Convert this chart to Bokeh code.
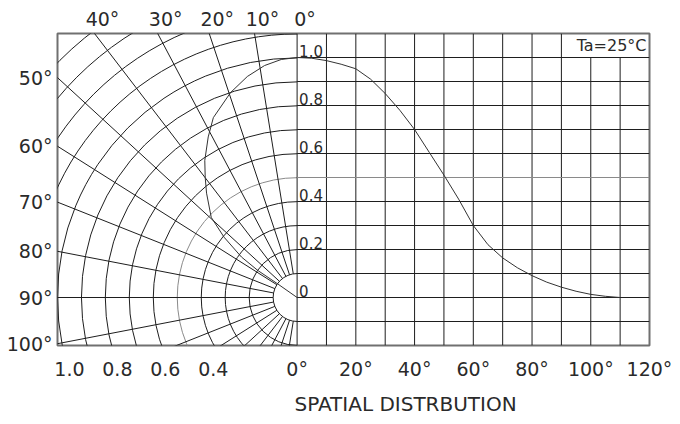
import numpy as np
from bokeh.plotting import figure
from bokeh.models import (Range1d, ColumnDataSource, LabelSet, Label,
                          LinearAxis, FixedTicker, Title)
from bokeh.core.properties import value
from bokeh.embed import file_html
from bokeh.resources import INLINE

# ---------------- data ----------------
# rectangular part: relative intensity vs angle (deg)
angle_deg = [0, 5, 10, 15, 20, 25, 30, 35, 40, 45, 50, 55, 60, 65, 70, 75,
             80, 85, 90, 95, 100, 105, 110]
rel_intensity = [1.0, 0.997, 0.987, 0.972, 0.953, 0.91, 0.85, 0.78, 0.70,
                 0.605, 0.51, 0.41, 0.30, 0.22, 0.165, 0.124, 0.091, 0.064,
                 0.043, 0.026, 0.013, 0.005, 0.0]

# polar part: radiation pattern (angle from axis in deg, relative radius)
polar_angle_deg = [0, 3.8, 8, 12.7, 18, 25, 29, 34, 37.5, 41, 47, 50.5, 54,
                   55.5, 55, 55]
polar_radius = [1.0, 0.994, 0.976, 0.944, 0.898, 0.827, 0.765, 0.689, 0.63,
                0.576, 0.49, 0.395, 0.287, 0.199, 0.099, 0.0]

# grid definitions
ring_radius = [0.1, 0.2, 0.3, 0.4, 0.5, 0.6, 0.7, 0.8, 0.9, 1.0,
               1.1, 1.2, 1.3, 1.4, 1.5]
spoke_deg = [10, 20, 30, 40, 50, 60, 70, 80, 90, 100, 110, 120, 130, 140,
             150, 160, 170]
grid_deg = [0, 10, 20, 30, 40, 50, 60, 70, 80, 90, 100, 110]
grid_val = [-0.1, 0.0, 0.1, 0.2, 0.3, 0.4, 0.5, 0.6, 0.7, 0.8, 0.9, 1.0]

# tick labels
top_angle_ticks = [40, 30, 20, 10, 0]
top_angle_labels = ["40°", "30°", "20°", "10°", "0°"]
side_angle_ticks = [50, 60, 70, 80, 90, 100]
side_angle_labels = ["50°", "60°", "70°", "80°", "90°", "100°"]
polar_scale_ticks = [1.0, 0.8, 0.6, 0.4]
polar_scale_labels = ["1.0", "0.8", "0.6", "0.4"]
deg_ticks = [0, 20, 40, 60, 80, 100, 120]
deg_labels = ["0°", "20°", "40°", "60°", "80°", "100°", "120°"]
rel_ticks = [1.0, 0.8, 0.6, 0.4, 0.2, 0.0]
rel_labels = ["1.0", "0.8", "0.6", "0.4", "0.2", "0"]
title_text = "SPATIAL DISTRBUTION"
temp_text = "Ta=25°C"

# ---------------- layout / style constants ----------------
Y_MIN, Y_MAX = -0.2, 1.1
POLAR_LEFT = -1.0
DEG_MAX = 120
PX = 240.0                            # pixels per unit of relative intensity
DEG_PER_UNIT = 120 / (353 / PX)       # right grid: 353 px for 120 deg
SPOKE_K = 0.916                       # horizontal squeeze of the drawn spokes
FONT = "DejaVu Sans"
INK = "#1e1e1e"
TXT = "#2a2a2a"
HALF = "#8a8a8a"

p = figure(width=680, height=424,
           x_range=Range1d(POLAR_LEFT, DEG_MAX / DEG_PER_UNIT),
           y_range=Range1d(Y_MIN, Y_MAX),
           x_axis_location=None, y_axis_location=None,
           toolbar_location=None, output_backend="svg",
           min_border_left=57, min_border_right=31,
           min_border_top=33, min_border_bottom=79)
p.extra_x_ranges = {"deg": Range1d(POLAR_LEFT * DEG_PER_UNIT, DEG_MAX)}
p.grid.visible = False
p.outline_line_color = "#707070"
p.outline_line_width = 2
p.background_fill_color = "white"
p.border_fill_color = "white"

# ---------------- polar grid ----------------
ring_colors = [HALF if abs(r - 0.5) < 1e-9 else INK for r in ring_radius]
p.arc(x=0, y=0, radius=ring_radius, start_angle=np.pi / 2,
      end_angle=3 * np.pi / 2, direction="anticlock",
      line_color=ring_colors, line_width=1)

th = np.radians(spoke_deg)
ux = -SPOKE_K * np.sin(th)
uy = np.cos(th)
n = np.hypot(ux, uy)
ux, uy = ux / n, uy / n
r0 = ring_radius[0]
p.segment(x0=r0 * ux, y0=r0 * uy, x1=3 * ux, y1=3 * uy,
          line_color=INK, line_width=1)

# polar pattern
pa = np.radians(polar_angle_deg)
pr = np.array(polar_radius)
p.line(-pr * np.sin(pa), pr * np.cos(pa), line_color="#333333", line_width=1)

# ---------------- rectangular grid ----------------
v_top = [Y_MAX if d <= 90 else 1.0 for d in grid_deg]
p.segment(x0=grid_deg, y0=[Y_MIN] * len(grid_deg), x1=grid_deg, y1=v_top,
          x_range_name="deg", line_color=INK, line_width=1)
h_colors = [HALF if abs(v - 0.5) < 1e-9 else INK for v in grid_val]
p.segment(x0=[0] * len(grid_val), y0=grid_val, x1=[DEG_MAX] * len(grid_val),
          y1=grid_val, x_range_name="deg", line_color=h_colors, line_width=1)

p.line(angle_deg, rel_intensity, x_range_name="deg",
       line_color="#333333", line_width=1)

# ---------------- axes (label-only) ----------------
def label_axis(ticks, labels, side, standoff, size="19px"):
    ticks = [float(t) for t in ticks]
    ax = LinearAxis(ticker=FixedTicker(ticks=ticks),
                    major_label_overrides=dict(zip(ticks, labels)),
                    axis_line_color=None, major_tick_line_color=None,
                    minor_tick_line_color=None,
                    major_tick_in=0, major_tick_out=0,
                    minor_tick_in=0, minor_tick_out=0,
                    major_label_standoff=standoff,
                    major_label_text_font=FONT,
                    major_label_text_font_size=size,
                    major_label_text_color=TXT)
    p.add_layout(ax, side)
    return ax

ta = np.radians(top_angle_ticks)
top_x = -Y_MAX * SPOKE_K * np.tan(ta) + 8 / PX
label_axis(top_x, top_angle_labels, "above", 4)

sa = np.radians(side_angle_ticks)
side_y = -POLAR_LEFT * np.cos(sa) / (SPOKE_K * np.sin(sa))
label_axis(side_y, side_angle_labels, "left", 5)

bottom_x = [-v + 12 / PX for v in polar_scale_ticks] + \
           [d / DEG_PER_UNIT for d in deg_ticks]
label_axis(bottom_x, polar_scale_labels + deg_labels, "below", 12)

# ---------------- in-frame labels ----------------
p.add_layout(LabelSet(source=ColumnDataSource(dict(x=[0] * len(rel_ticks),
                                                   y=rel_ticks, t=rel_labels)),
                      x="x", y="y", text="t", x_range_name="deg",
                      text_align="left", text_baseline="bottom",
                      x_offset=2, y_offset=1, text_font=value(FONT),
                      text_font_size="15px", text_color=TXT))

p.add_layout(Label(x=DEG_MAX, y=(1.0 + Y_MAX) / 2, x_range_name="deg",
                   text=temp_text, text_align="right", text_baseline="middle",
                   x_offset=-3, text_font=FONT, text_font_size="16px",
                   text_color=TXT))

p.add_layout(Title(text=title_text, align="left", offset=237, standoff=15,
                   text_font=FONT, text_font_size="20px",
                   text_font_style="normal", text_color=TXT), "below")

open("out.html", "w").write(file_html(p, INLINE))
